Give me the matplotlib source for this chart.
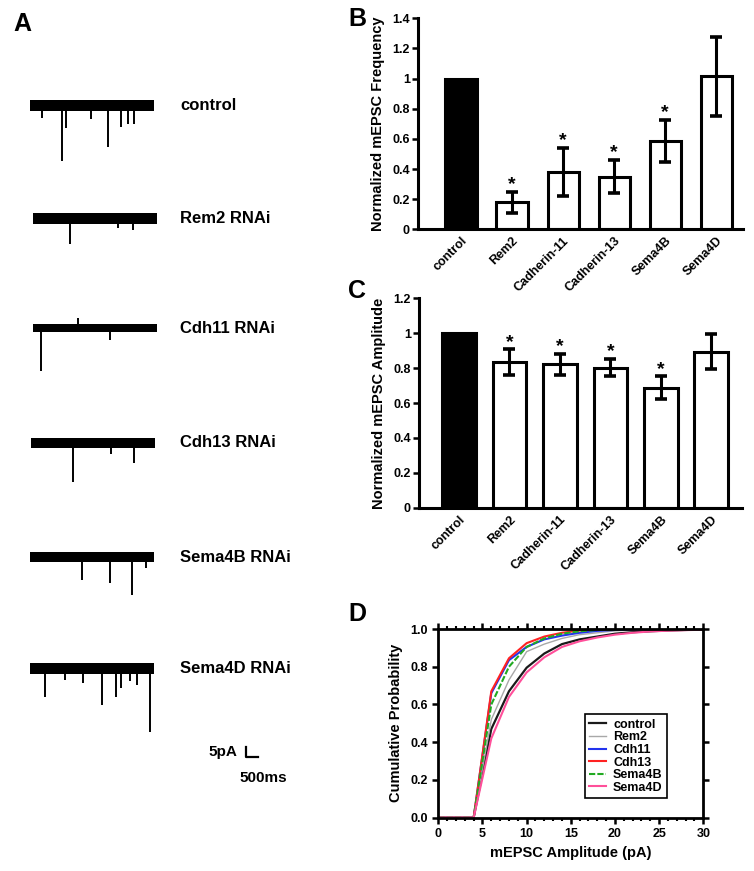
import numpy as np
import matplotlib
matplotlib.use("Agg")
import matplotlib.pyplot as plt
from matplotlib.ticker import MultipleLocator, FormatStrFormatter

plt.rcParams["font.family"] = ["Liberation Sans", "DejaVu Sans"]
plt.rcParams["font.weight"] = "bold"
plt.rcParams["axes.labelweight"] = "bold"

# ---- panel A: example traces (event times in ms, amplitudes in pA) ----
trace_labels = ["control", "Rem2 RNAi", "Cdh11 RNAi", "Cdh13 RNAi", "Sema4B RNAi", "Sema4D RNAi"]
trace_duration_ms = 4950
noise_band_pa = [5.5, 5.5, 4.0, 5.0, 5.0, 5.5]
event_times = [
    [468, 1292, 1428, 2440, 3108, 3640, 3920, 4160],
    [1480, 3400, 4000],
    [308, 1800, 3080],
    [1680, 3200, 4120],
    [2068, 3200, 4080, 4628],
    [612, 1400, 2108, 2868, 3452, 3652, 4000, 4268, 4788],
]
event_amps = [
    [6, 27.5, 11, 6.5, 20.5, 10.5, 9, 9],
    [13, 5, 6],
    [21.5, -5, 6],
    [19.5, 5.7, 10],
    [11.5, 12.8, 19, 5.5],
    [14.3, 6, 7.5, 18.5, 14.5, 10, 6.3, 8.5, 31.8],
]
scale_bar_pa = 5
scale_bar_ms = 500

# ---- panels B / C: normalized mEPSC frequency and amplitude ----
conditions = ["control", "Rem2", "Cadherin-11", "Cadherin-13", "Sema4B", "Sema4D"]
freq_mean = [1.0, 0.18, 0.38, 0.35, 0.585, 1.015]
freq_sem = [0.0, 0.07, 0.16, 0.11, 0.14, 0.26]
freq_sig = [False, True, True, True, True, False]
amp_mean = [1.0, 0.835, 0.823, 0.802, 0.688, 0.895]
amp_sem = [0.0, 0.072, 0.06, 0.05, 0.066, 0.10]
amp_sig = [False, True, True, True, True, False]

# ---- panel D: cumulative amplitude distributions ----
amp_bins = [0, 2, 4, 6, 8, 10, 12, 14, 16, 18, 20, 22, 24, 26, 28, 30]
cum_control = [0, 0, 0, 0.47, 0.67, 0.795, 0.87, 0.92, 0.945, 0.96, 0.975, 0.983, 0.988, 0.992, 0.995, 0.997]
cum_rem2 = [0, 0, 0, 0.52, 0.73, 0.88, 0.92, 0.95, 0.97, 0.98, 0.99, 0.995, 0.997, 0.998, 0.999, 1.0]
cum_cdh11 = [0, 0, 0, 0.66, 0.835, 0.905, 0.945, 0.965, 0.98, 0.99, 0.995, 0.998, 1, 1, 1, 1]
cum_cdh13 = [0, 0, 0, 0.67, 0.845, 0.925, 0.96, 0.98, 0.992, 0.997, 1, 1, 1, 1, 1, 1]
cum_sema4b = [0, 0, 0, 0.60, 0.80, 0.905, 0.95, 0.975, 0.988, 0.995, 0.998, 1, 1, 1, 1, 1]
cum_sema4d = [0, 0, 0, 0.42, 0.64, 0.77, 0.85, 0.905, 0.935, 0.955, 0.97, 0.98, 0.987, 0.991, 0.994, 0.996]
cum_labels = ["control", "Rem2", "Cdh11", "Cdh13", "Sema4B", "Sema4D"]

W, H = 754, 871
fig = plt.figure(figsize=(W / 100, H / 100), dpi=100)


def px_rect(left, right, top, bottom):
    return [left / W, 1 - bottom / H, (right - left) / W, (bottom - top) / H]


# Panel A -- axes in ms / pA, 40 ms and 0.5 pA per pixel
axA = fig.add_axes([0, 0, 330 / W, 1])
axA.set_xlim(0, 330 * 40)
axA.set_ylim(-H * 0.5, 0)
axA.axis("off")
trace_base_px = [106, 218, 328, 442.7, 557, 668]
trace_start_px = [30, 33, 33, 31, 30, 30]
for i, label in enumerate(trace_labels):
    base = -trace_base_px[i] * 0.5
    t0 = trace_start_px[i] * 40
    half = noise_band_pa[i] / 2
    axA.fill_between([t0, t0 + trace_duration_ms], base - half, base + half,
                     color="black", linewidth=0)
    for t, a in zip(event_times[i], event_amps[i]):
        axA.plot([t0 + t, t0 + t], [base, base - a], color="black", lw=1.4,
                 solid_capstyle="butt")
    axA.text(180 * 40, base, label, fontsize=12, ha="left", va="center")

sx, sy = 245.7 * 40, -756.7 * 0.5
axA.plot([sx, sx, sx + scale_bar_ms], [sy + scale_bar_pa, sy, sy], color="black", lw=1.6)
axA.text(237 * 40, -751.7 * 0.5, "5pA", fontsize=11, ha="right", va="center")
axA.text(263.5 * 40, -778 * 0.5, "500ms", fontsize=11, ha="center", va="center")


def bar_panel(ax, means, sems, sig, width, ylim, ylabel):
    x = np.arange(len(conditions))
    colors = ["black"] + ["white"] * (len(conditions) - 1)
    ax.bar(x, means, width=width, color=colors, edgecolor="black", linewidth=2.2, zorder=1)
    ax.errorbar(x[1:], means[1:], yerr=sems[1:], fmt="none", ecolor="black",
                elinewidth=2.2, capsize=4, capthick=2.6, zorder=3)
    for xi, m, s, star in zip(x, means, sems, sig):
        if star:
            ax.annotate("*", xy=(xi, m + s), xytext=(0, 1.8), textcoords="offset points",
                        ha="center", va="baseline", fontsize=14)
    ax.set_ylim(*ylim)
    ax.yaxis.set_major_locator(MultipleLocator(0.2))
    ax.yaxis.set_major_formatter(FormatStrFormatter("%g"))
    ax.set_xticks(x)
    ax.set_xticklabels(conditions, rotation=45, ha="right", rotation_mode="anchor")
    for side in ("top", "right"):
        ax.spines[side].set_visible(False)
    for side in ("left", "bottom"):
        ax.spines[side].set_linewidth(2.2)
    ax.tick_params(axis="y", direction="out", length=4, width=1.8, labelsize=9, pad=2)
    ax.tick_params(axis="x", length=0, labelsize=9, pad=4)
    ax.set_ylabel(ylabel, fontsize=10.5, labelpad=5)


axB = fig.add_axes(px_rect(418.3, 742.7, 18.3, 229.3))
bar_panel(axB, freq_mean, freq_sem, freq_sig, 0.61, (0, 1.4), "Normalized mEPSC Frequency")
axB.set_xlim(-0.837, 5.52)

axC = fig.add_axes(px_rect(419.3, 741.7, 298.3, 507.7))
bar_panel(axC, amp_mean, amp_sem, amp_sig, 0.67, (0, 1.2), "Normalized mEPSC Amplitude")
axC.set_xlim(-0.786, 5.6)

# Panel D
axD = fig.add_axes(px_rect(438.3, 703.3, 629, 817.7))
curves = [cum_control, cum_rem2, cum_cdh11, cum_cdh13, cum_sema4b, cum_sema4d]
colors_d = ["#1a1a1a", "#a8a8a8", "#2233ee", "#ff2222", "#22aa22", "#ff4f9a"]
widths_d = [1.6, 1.0, 1.5, 1.5, 1.5, 1.5]
styles_d = ["-", "-", "-", "-", (0, (3, 1)), "-"]
for y, lab, c, lw, ls in zip(curves, cum_labels, colors_d, widths_d, styles_d):
    axD.plot(amp_bins, y, color=c, lw=lw, ls=ls, label=lab)
axD.set_xlim(0, 30)
axD.set_ylim(0, 1.0)
axD.xaxis.set_major_locator(MultipleLocator(5))
axD.xaxis.set_minor_locator(MultipleLocator(1))
axD.yaxis.set_major_locator(MultipleLocator(0.2))
axD.yaxis.set_major_formatter(FormatStrFormatter("%.1f"))
for s in axD.spines.values():
    s.set_linewidth(2.0)
axD.tick_params(which="both", direction="out", top=True, right=True, labelsize=9)
axD.tick_params(which="major", length=4, width=1.8)
axD.tick_params(which="minor", length=2.5, width=1.5)
axD.set_xlabel("mEPSC Amplitude (pA)", fontsize=10.5, labelpad=4)
axD.set_ylabel("Cumulative Probability", fontsize=10.5, labelpad=5)
leg = axD.legend(loc="lower left", bbox_to_anchor=(0.53, 0.07), fontsize=9,
                 frameon=True, fancybox=False, edgecolor="black", framealpha=1,
                 handlelength=1.3, handletextpad=0.6, labelspacing=0.05, borderpad=0.35)
leg.get_frame().set_linewidth(1.2)

# panel letters
for letter, (px, py) in zip("ABCD", [(22, 24), (357, 19), (357, 291), (357, 614)]):
    fig.text(px / W, 1 - py / H, letter, fontsize=18, ha="center", va="center")

fig.savefig("out.png", dpi=100)
